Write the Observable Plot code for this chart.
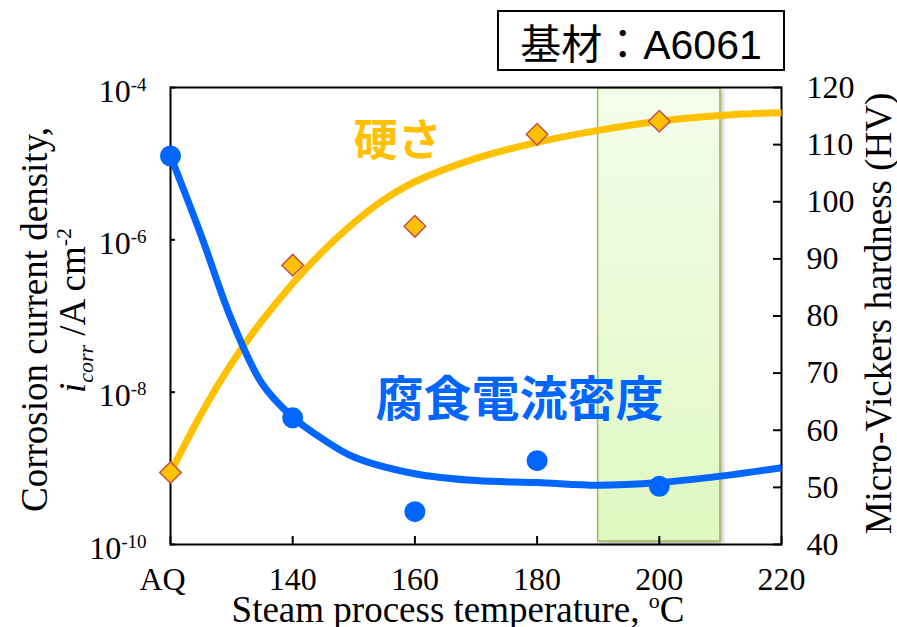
<!DOCTYPE html>
<html>
<head>
<meta charset="utf-8">
<script src="https://cdn.jsdelivr.net/npm/d3@7"></script>
<script src="https://cdn.jsdelivr.net/npm/@observablehq/plot@0.6"></script>
<style>
  html, body { margin: 0; padding: 0; background: #fff; }
  #wrap { position: relative; width: 897px; height: 627px; }
  #badge {
    position: absolute; left: 497px; top: 10px; width: 288px; height: 61px;
    box-sizing: border-box; border: 2px solid #000; background: #fff;
    display: flex; align-items: center; justify-content: center;
    font-family: "Liberation Sans", "Noto Sans CJK JP", sans-serif; font-size: 41px; color: #000;
  }
</style>
</head>
<body>
<div id="wrap"></div>
<script>
// Steam process temperature (°C); 120 stands for the as-quenched (AQ) sample
const temps = [120, 140, 160, 180, 200];
// Corrosion current density i_corr (A cm^-2)
const corrosion = [1.26e-5, 4.6e-9, 2.7e-10, 1.26e-9, 5.8e-10];
// Micro-Vickers hardness (HV)
const hardness = [52.6, 88.9, 95.7, 111.8, 114.1];

// Trend curves
const corrFitT = [120, 125, 130, 135, 140, 145, 150, 160, 170, 180, 190, 200, 210, 220];
const corrFit = [1.26e-5, 1.15e-6, 8.9e-8, 1.29e-8, 4.7e-9, 2.4e-9, 1.41e-9, 8.5e-10, 6.9e-10, 6.5e-10, 6.0e-10, 6.5e-10, 7.9e-10, 1.02e-9];
const hardFitT = [120, 125, 130, 135, 140, 145, 150, 155, 160, 170, 180, 190, 200, 210, 220];
const hardFit = [52.6, 62.8, 71.7, 79.2, 85.7, 91.4, 96.3, 100.4, 103.5, 107.6, 110.4, 112.5, 114.1, 115.1, 115.6];

// Highlighted temperature window
const bandStart = [190];
const bandEnd = [210];

// Axis ticks
const xTicks = [120, 140, 160, 180, 200, 220];
const xTickLabels = ["AQ\u00a0\u00a0", "140", "160", "180", "200", "220"];
const yTicks = [1e-10, 1e-8, 1e-6, 1e-4];
const hvTicks = [40, 50, 60, 70, 80, 90, 100, 110, 120];

// Annotation labels
const hardLabel = {t: 157.2, hv: 110.5, text: "硬さ"};
const corrLabel = {t: 177.1, v: 7.8e-9, text: "腐食電流密度"};

const BLUE = "#0066ff";
const GOLD = "#ffc000";
const SERIF = "'Liberation Serif', 'Times New Roman', serif";
const CJK = "'Noto Sans CJK JP', sans-serif";

// Hardness shares the log y scale: 40–120 HV spans the six decades 1e-10–1e-4
const toY = h => 10 ** (-10 + (h - 40) * 6 / 80);

const corrPts = temps.map((t, i) => ({t, v: corrosion[i]}));
const hardPts = temps.map((t, i) => ({t, hv: hardness[i]}));
const corrLine = corrFitT.map((t, i) => ({t, v: corrFit[i]}));
const hardLine = hardFitT.map((t, i) => ({t, hv: hardFit[i]}));
const bandRows = bandStart.map((s, i) => ({start: s, end: bandEnd[i]}));

const svg = Plot.plot({
  width: 897,
  height: 627,
  marginTop: 87,
  marginBottom: 83,
  marginLeft: 170,
  marginRight: 116,
  style: {fontFamily: SERIF, fontSize: "32px", color: "#000", background: "#fff", overflow: "visible"},
  x: {domain: [120, 220]},
  y: {type: "log", domain: [1e-10, 1e-4]},
  marks: [
    Plot.rect(bandRows, {x1: "start", x2: "end", fill: "url(#band-fill)", stroke: "#9bbb59", strokeWidth: 1.5, insetTop: 1, insetBottom: 3}),
    Plot.frame({stroke: "#000", strokeWidth: 2}),

    // inward tick marks
    Plot.axisX(xTicks, {tickSize: 8, dy: -8, fill: "none", strokeWidth: 2, label: null}),
    Plot.axisY(yTicks, {anchor: "left", tickSize: 5, dx: 5, fill: "none", strokeWidth: 2, label: null}),
    Plot.axisY(hvTicks.map(toY), {anchor: "right", tickSize: 9, dx: -9, fill: "none", strokeWidth: 2, label: null}),

    // tick labels
    Plot.axisX(xTicks, {tickSize: 0, tickPadding: 23, tickFormat: d => xTickLabels[xTicks.indexOf(d)], label: null}),
    Plot.axisY(yTicks, {anchor: "left", tickSize: 0, tickPadding: 24, dy: 4, tickFormat: d => `10^${Math.round(Math.log10(d))}`, label: null}),
    Plot.text(hvTicks, {y: d => toY(d), text: d => String(d), frameAnchor: "right", textAnchor: "start", dx: 25, fontSize: 32}),

    // trend curves
    Plot.line(hardLine, {x: "t", y: d => toY(d.hv), stroke: GOLD, strokeWidth: 7, curve: "catmull-rom", strokeLinecap: "butt"}),
    Plot.line(corrLine, {x: "t", y: "v", stroke: BLUE, strokeWidth: 7, curve: "catmull-rom", strokeLinecap: "butt"}),

    // measurements
    Plot.dot(hardPts, {x: "t", y: d => toY(d.hv), symbol: "diamond2", r: 9.7, fill: GOLD, stroke: "#c0504d", strokeWidth: 1.5}),
    Plot.dot(corrPts, {x: "t", y: "v", r: 10.5, fill: BLUE}),

    // series labels
    Plot.text([hardLabel], {x: "t", y: d => toY(d.hv), text: "text", fill: GOLD, fontSize: 44, fontWeight: "bold", fontFamily: CJK}),
    Plot.text([corrLabel], {x: "t", y: "v", text: "text", fill: BLUE, fontSize: 48, fontWeight: "bold", fontFamily: CJK}),

    // axis titles
    Plot.text(["Steam process temperature, oC"], {text: d => d, frameAnchor: "bottom", lineAnchor: "bottom", dx: -18, dy: 77, fontSize: 37}),
    Plot.text(["Corrosion current density,"], {text: d => d, frameAnchor: "left", rotate: -90, textAnchor: "middle", lineAnchor: "bottom", dx: -124, dy: 3.5, fontSize: 37}),
    Plot.text(["icorr /A cm-2"], {text: d => d, frameAnchor: "left", rotate: -90, textAnchor: "middle", lineAnchor: "bottom", dx: -86, dy: -5.5, fontSize: 37}),
    Plot.text(["Micro-Vickers hardness (HV)"], {text: d => d, frameAnchor: "right", rotate: -90, textAnchor: "middle", lineAnchor: "bottom", dx: 109, dy: -2.5, fontSize: 37})
  ]
});

const root = d3.select(svg);

// soft green fill for the highlighted window
const grad = root.insert("defs", ":first-child")
  .append("linearGradient").attr("id", "band-fill")
  .attr("x1", 0).attr("y1", 0).attr("x2", 0).attr("y2", 1);
grad.append("stop").attr("offset", "0%").attr("stop-color", "#f4fdeb");
grad.append("stop").attr("offset", "100%").attr("stop-color", "#dff8c0");
root.selectAll("g[aria-label='rect'] rect").style("filter", "drop-shadow(2px 2px 2px rgba(0,0,0,0.3))");

// rich text: superscripts, subscripts, italics
root.selectAll("text").each(function () {
  const t = this.textContent;
  const el = d3.select(this);
  const m = /^10\^(-?\d+)$/.exec(t);
  if (m) {
    el.text("10");
    el.append("tspan").attr("font-size", "19px").attr("dy", -11).text(m[1]);
  } else if (t === "Steam process temperature, oC") {
    el.text("Steam process temperature, ");
    el.append("tspan").attr("font-size", "22px").attr("dy", -14).text("o");
    el.append("tspan").attr("dy", 14).text("C");
  } else if (t === "icorr /A cm-2") {
    el.text(null);
    el.append("tspan").attr("font-style", "italic").text("i");
    el.append("tspan").attr("font-style", "italic").attr("font-size", "22px").attr("dy", 8).text("corr");
    el.append("tspan").attr("dy", -8).text(" /A cm");
    el.append("tspan").attr("font-size", "22px").attr("dy", -14).text("-2");
  }
});

const wrap = document.getElementById("wrap");
wrap.appendChild(svg);
const badge = document.createElement("div");
badge.id = "badge";
badge.textContent = "基材：A6061";
wrap.appendChild(badge);
</script>
</body>
</html>
